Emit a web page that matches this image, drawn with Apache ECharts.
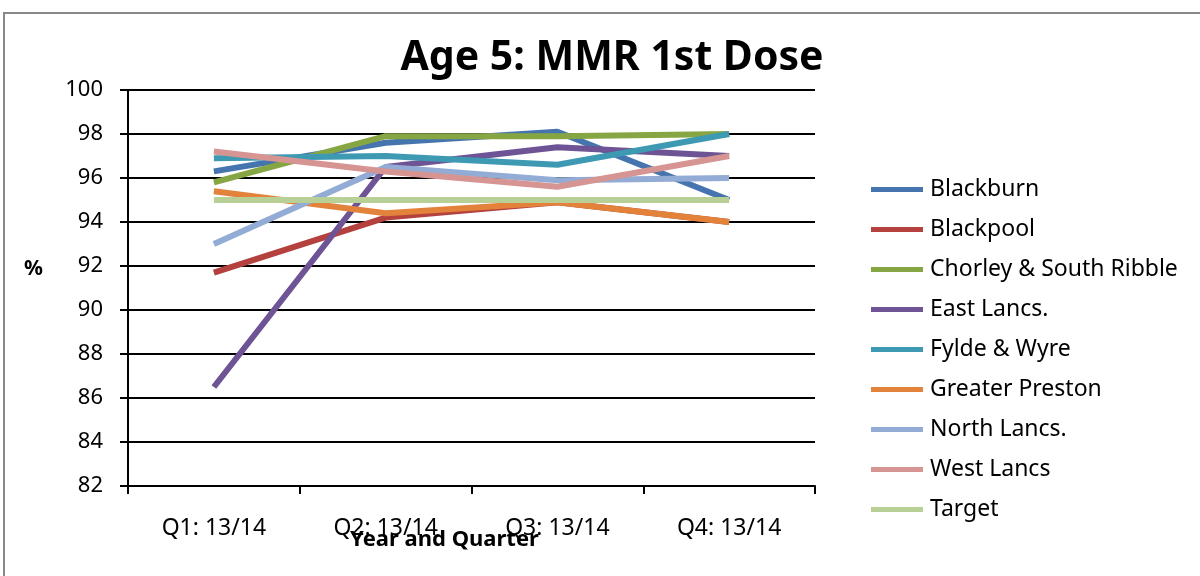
<!DOCTYPE html>
<html>
<head>
<meta charset="utf-8">
<script src="https://cdn.jsdelivr.net/npm/echarts@6/dist/echarts.min.js"></script>
<style>
  html, body { margin: 0; padding: 0; background: #ffffff; }
  #chart { width: 1200px; height: 576px; }
  .frame { position: absolute; left: 3px; top: 12px; width: 1200px; height: 600px; border: 2px solid #888888; box-sizing: border-box; pointer-events: none; }
</style>
</head>
<body>
<div id="chart"></div>
<div class="frame"></div>
<script>
// quarters and values (%)
const quarters = ['Q1: 13/14', 'Q2: 13/14', 'Q3: 13/14', 'Q4: 13/14'];
const blackburn = [96.3, 97.6, 98.1, 95.0];
const blackpool = [91.7, 94.2, 94.9, 94.0];
const chorley = [95.8, 97.9, 97.9, 98.0];
const eastLancs = [86.5, 96.5, 97.4, 97.0];
const fyldeWyre = [96.9, 97.0, 96.6, 98.0];
const greaterPreston = [95.4, 94.4, 94.9, 94.0];
const northLancs = [93.0, 96.5, 95.9, 96.0];
const westLancs = [97.2, 96.3, 95.6, 97.0];
const target = [95, 95, 95, 95];
const yTicks = [82, 100, 2]; // min, max, step

const names = ['Blackburn', 'Blackpool', 'Chorley & South Ribble', 'East Lancs.', 'Fylde & Wyre',
  'Greater Preston', 'North Lancs.', 'West Lancs', 'Target'];
const values = [blackburn, blackpool, chorley, eastLancs, fyldeWyre, greaterPreston, northLancs, westLancs, target];
const colors = ['#4674AE', '#B4413E', '#86A644', '#6E5494', '#3E9AB3', '#E3823A', '#93ACD5', '#D69492', '#B8D096'];

const chart = echarts.init(document.getElementById('chart'));
const font = '"Noto Sans", "Open Sans", sans-serif';

let series = [];
names.forEach(function (n, i) {
  series.push({
    name: n,
    type: 'line',
    data: values[i],
    symbol: 'none',
    lineStyle: { width: 6, color: colors[i] },
    itemStyle: { color: colors[i] },
    emphasis: { disabled: true }
  });
});

chart.setOption({
  animation: false,
  textStyle: { fontFamily: font },
  title: [{
    text: 'Age 5: MMR 1st Dose',
    left: 607,
    top: 33,
    textAlign: 'center',
    textStyle: { fontSize: 41, fontWeight: 'bold', color: '#000', fontFamily: font }
  }],
  grid: { left: 128, right: 385, top: 90, bottom: 90, containLabel: false },
  legend: {
    orient: 'vertical',
    left: 866,
    top: 173,
    icon: 'rect',
    itemWidth: 52,
    itemHeight: 5,
    itemGap: 17,
    textStyle: { fontSize: 23, color: '#000', fontFamily: font, padding: [0, 0, 0, 2] },
    data: names
  },
  xAxis: {
    type: 'category',
    data: quarters,
    boundaryGap: true,
    axisLine: { lineStyle: { color: '#000', width: 2 } },
    axisTick: { show: true, length: 8, lineStyle: { color: '#000', width: 2 } },
    axisLabel: { fontSize: 23, color: '#000', margin: 31 },
    splitLine: { show: false }
  },
  yAxis: {
    type: 'value',
    min: yTicks[0],
    max: yTicks[1],
    interval: yTicks[2],
    axisLine: { show: true, lineStyle: { color: '#000', width: 2 } },
    axisTick: { show: true, length: 8, lineStyle: { color: '#000', width: 2 } },
    axisLabel: { fontSize: 22, color: '#000', margin: 25 },
    splitLine: { show: true, lineStyle: { color: '#000', width: 2 } }
  },
  graphic: [
    { type: 'text', left: 24, top: 259, style: { text: '%', font: 'bold 21px ' + font, fill: '#000' } },
    { type: 'text', left: 350, top: 529, style: { text: 'Year and Quarter', font: 'bold 22px ' + font, fill: '#000' } }
  ],
  series: series
});
</script>
</body>
</html>
